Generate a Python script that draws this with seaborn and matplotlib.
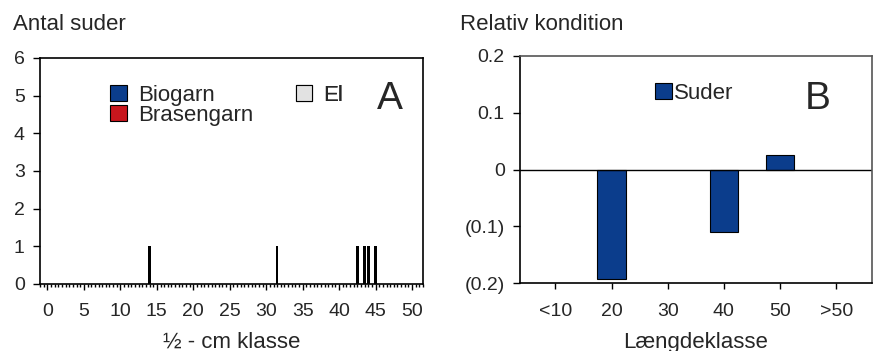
import matplotlib
matplotlib.use("Agg")
import matplotlib.pyplot as plt
from matplotlib.patches import Patch
from matplotlib.ticker import FuncFormatter, MultipleLocator
import seaborn as sns
import pandas as pd
import numpy as np

# Panel A: antal suder pr. halv-cm klasse
a_klasse = [14.0, 31.5, 42.5, 43.5, 44.0, 45.0]
a_antal = [1, 1, 1, 1, 1, 1]
a_legend = ["Biogarn", "Brasengarn", "El"]
a_colors = ["#0b3d8c", "#c8161d", "#e2e2e2"]

# Panel B: relativ kondition pr. laengdeklasse
b_klasser = ["<10", "20", "30", "40", "50", ">50"]
b_kondition = [np.nan, -0.193, np.nan, -0.11, 0.025, np.nan]
b_color = "#0b3d8c"

sns.set_style("ticks")
plt.rcParams["font.family"] = ["Liberation Sans", "DejaVu Sans"]
plt.rcParams["font.size"] = 14

fig = plt.figure(figsize=(8.73, 3.51), dpi=100)
axA = fig.add_axes([0.0458, 0.191, 0.4387, 0.644])
axB = fig.add_axes([0.5956, 0.193, 0.4029, 0.648])

leg_kw = dict(frameon=False, handlelength=0.75, handleheight=0.75,
              borderaxespad=0, borderpad=0, prop={"size": 16})

# ---- A ----
sns.barplot(x=a_klasse, y=a_antal, native_scale=True, color="black",
            width=0.7, linewidth=0, saturation=1, ax=axA)
axA.set_xlim(-1.03, 51.5)
axA.set_ylim(0, 6)
axA.xaxis.set_major_locator(MultipleLocator(5))
axA.xaxis.set_minor_locator(MultipleLocator(0.5))
axA.set_yticks(range(0, 7))
axA.tick_params(axis="x", which="major", length=4, width=1, color="black", pad=10)
axA.tick_params(axis="x", which="minor", length=2.5, width=1, color="black")
axA.tick_params(axis="y", length=5, width=1, color="black", pad=6)
for s in axA.spines.values():
    s.set_color("black")
    s.set_linewidth(1.2)
axA.set_xlabel("½ - cm klasse", fontsize=16, labelpad=8)
axA.set_ylabel("")
fig.text(0.015, 0.93, "Antal suder", ha="left", va="center", fontsize=16)
handlesA = [Patch(facecolor=c, edgecolor="black", linewidth=0.8) for c in a_colors[:2]]
legA = axA.legend(handlesA, a_legend[:2], loc="upper left", bbox_to_anchor=(0.183, 0.88),
                  handletextpad=0.5, labelspacing=-0.05, **leg_kw)
axA.add_artist(legA)
legEl = axA.legend([Patch(facecolor=a_colors[2], edgecolor="black", linewidth=0.8)],
                   [a_legend[2]], loc="upper left", bbox_to_anchor=(0.668, 0.88),
                   handletextpad=0.5, **leg_kw)
axA.add_artist(legEl)
axA.text(0.914, 0.738, "A", transform=axA.transAxes, fontsize=28, ha="center", va="bottom")

# ---- B ----
dfB = pd.DataFrame({"klasse": b_klasser, "kondition": b_kondition})
sns.barplot(data=dfB, x="klasse", y="kondition", order=b_klasser, color=b_color,
            saturation=1, width=0.5, edgecolor="black", linewidth=0.8, ax=axB)
axB.set_xlim(-0.63, 5.63)
axB.set_ylim(-0.2, 0.2)
axB.set_yticks([-0.2, -0.1, 0, 0.1, 0.2])
axB.yaxis.set_major_formatter(FuncFormatter(
    lambda v, p: "0" if abs(v) < 1e-9 else (f"({abs(v):.1f})" if v < 0 else f"{v:.1f}")))
axB.axhline(0, color="black", linewidth=1)
axB.tick_params(axis="x", length=4.5, width=1, color="black", pad=10)
axB.tick_params(axis="y", length=5, width=1, color="black", pad=6)
for name, s in axB.spines.items():
    s.set_linewidth(1.2)
    s.set_color("black" if name in ("left", "bottom") else "#555555")
axB.set_xlabel("Længdeklasse", fontsize=16, labelpad=8)
axB.set_ylabel("")
fig.text(0.527, 0.93, "Relativ kondition", ha="left", va="center", fontsize=16)
axB.legend([Patch(facecolor=b_color, edgecolor="black", linewidth=0.8)], ["Suder"],
           loc="upper left", bbox_to_anchor=(0.384, 0.88), handletextpad=0.1, **leg_kw)
axB.text(0.847, 0.732, "B", transform=axB.transAxes, fontsize=28, ha="center", va="bottom")

fig.savefig("out.png", dpi=100)
